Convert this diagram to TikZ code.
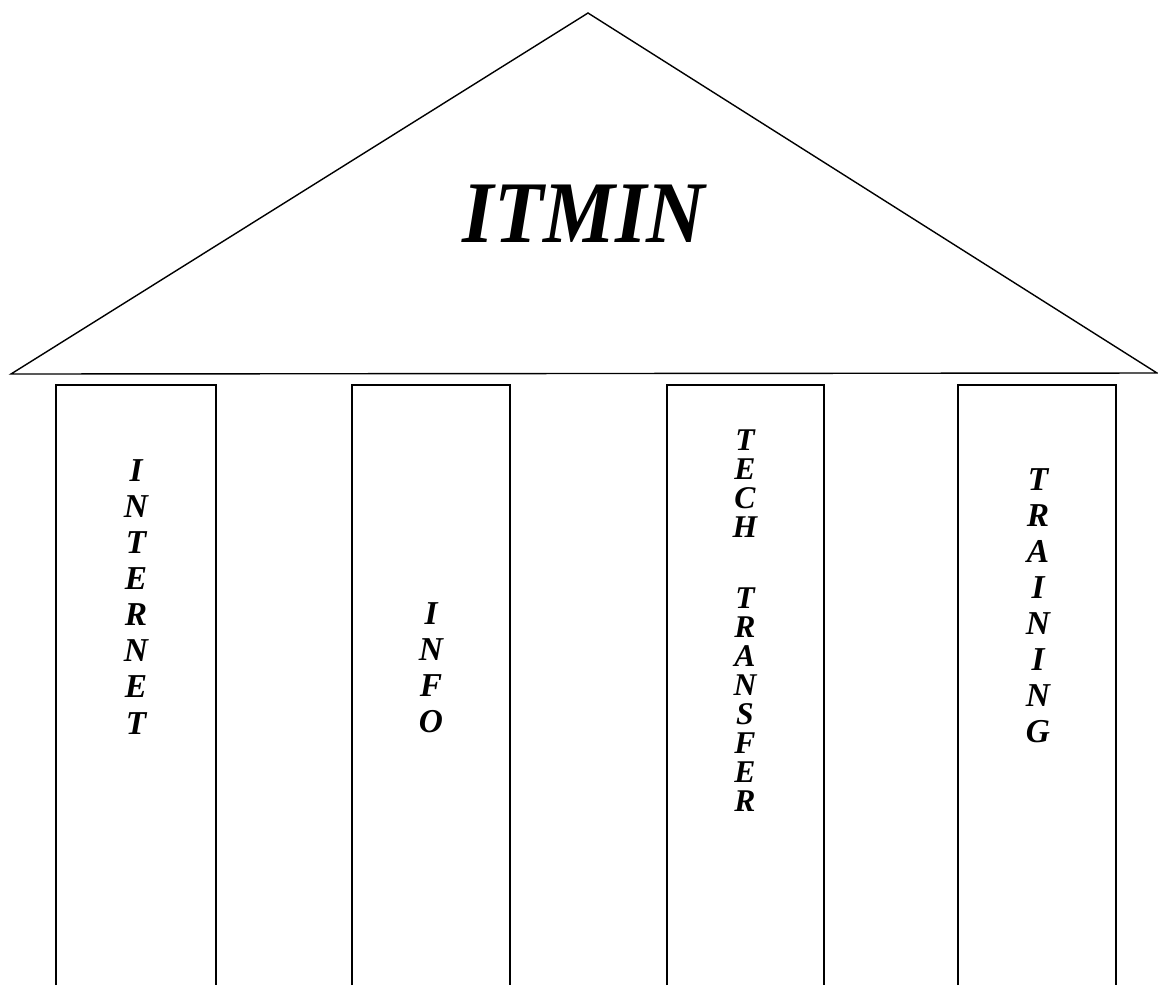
\documentclass[tikz,border=0pt]{standalone}
\usepackage{fontspec}
\setmainfont{Liberation Serif}
\usetikzlibrary{positioning}

\begin{document}
\begin{tikzpicture}[x=0.02cm, y=-0.02cm,
  roof/.style={draw, line width=0.8pt},
  pillar/.style={draw, line width=0.8pt},
  title/.style={font=\fontsize{50}{60}\bfseries\itshape\selectfont, inner sep=0pt, xscale=0.92},
  word/.style={align=center, inner sep=0pt, font=\fontsize{19}{20.5}\bfseries\itshape\selectfont},
  wordsm/.style={align=center, inner sep=0pt, font=\fontsize{18}{16.5}\bfseries\itshape\selectfont}
]
  \useasboundingbox (0,0) rectangle (1158,985);

  % roof
  \coordinate (apex)  at (588,13);
  \coordinate (eaveL) at (11,374);
  \coordinate (eaveR) at (1157,373);
  \draw[roof] (eaveL) -- (apex) -- (eaveR) -- cycle;
  \node[title] (itmin) at (584,214) {ITMIN};

  % pillars, open at the bottom
  \foreach \l/\r in {56/216, 352/510, 667/824, 958/1116}
    \draw[pillar] (\l,985) -- (\l,385) -- (\r,385) -- (\r,985);

  \node[word]   (internet) at (136,597) {I\\N\\T\\E\\R\\N\\E\\T};
  \node[word]   (info)     at (431,668) {I\\N\\F\\O};
  \node[wordsm] (tech)     at (745,621) {T\\E\\C\\H\\[24pt]T\\R\\A\\N\\S\\F\\E\\R};
  \node[word]   (training) at (1038,606) {T\\R\\A\\I\\N\\I\\N\\G};
\end{tikzpicture}
\end{document}
